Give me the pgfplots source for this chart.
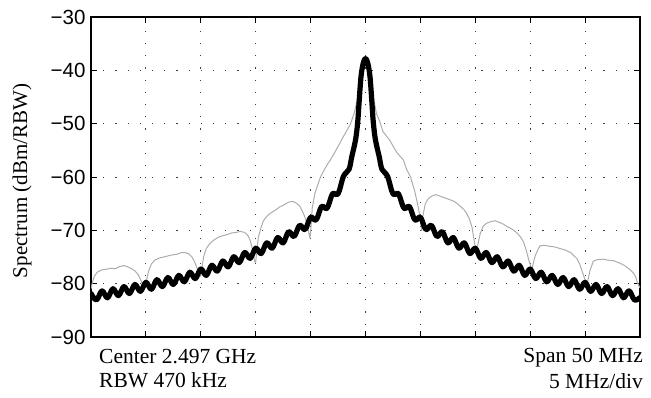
\documentclass[border=0pt]{standalone}
\usepackage{pgfplots}
\pgfplotsset{compat=1.18}
\usepackage{fontspec}
\setmainfont{Liberation Serif}
\newfontfamily\arialfont{Liberation Sans}
\definecolor{lightgr}{RGB}{172,172,172}
\begin{document}
\begin{tikzpicture}
\useasboundingbox (0,0) rectangle (651pt,397pt);
\begin{axis}[
  at={(91pt,60pt)}, anchor=south west,
  width=549pt, height=320pt, scale only axis,
  xmin=-25, xmax=25, ymin=-90, ymax=-30,
  xtick={-20,-15,...,20}, xticklabels={,,,,,,,,},
  ytick={-90,-80,-70,-60,-50,-40,-30},
  yticklabels={−90,−80,−70,−60,−50,−40,−30},
  yticklabel style={font=\arialfont\fontsize{20.5}{24}\selectfont, xshift=-2pt},
  tick align=inside, major tick length=6pt,
  tick style={black, line width=0.9pt},
  axis line style={black, line width=1.2pt},
  grid=major,
  major grid style={dash pattern=on 1.2pt off 11pt, black!75, line width=0.9pt},
  clip=true,
]
\addplot[lightgr, line width=1pt, line join=round] coordinates {
(-25.0,-81.0) (-24.9,-80.0) (-24.7,-78.6) (-24.4,-77.8) (-24.0,-77.4) (-23.6,-77.3)
(-23.2,-77.1) (-22.8,-77.2) (-22.4,-76.8) (-22.0,-76.6) (-21.6,-76.9) (-21.3,-77.2)
(-21.0,-77.6) (-20.7,-78.3) (-20.45,-79.4) (-20.25,-80.3) (-20.1,-80.7) (-19.95,-79.5)
(-19.75,-77.6) (-19.5,-76.3) (-19.2,-75.6) (-18.8,-75.2) (-18.4,-75.0) (-18.0,-74.8)
(-17.6,-74.6) (-17.2,-74.5) (-16.8,-74.2) (-16.4,-74.2) (-16.1,-74.4) (-15.8,-75.0)
(-15.55,-76.0) (-15.3,-77.3) (-15.1,-78.4) (-15.0,-78.6) (-14.9,-77.2) (-14.75,-75.0)
(-14.5,-73.4) (-14.15,-72.4) (-13.8,-71.8) (-13.4,-71.3) (-13.0,-71.0) (-12.6,-70.8)
(-12.2,-70.5) (-11.8,-70.4) (-11.4,-70.2) (-11.0,-70.4) (-10.7,-71.0) (-10.5,-71.9)
(-10.3,-73.5) (-10.1,-75.8) (-10.0,-76.0) (-9.9,-73.8) (-9.75,-71.2) (-9.5,-69.4)
(-9.3,-68.2) (-9.0,-67.4) (-8.6,-66.7) (-8.2,-66.2) (-7.8,-65.6) (-7.4,-65.2)
(-7.0,-64.7) (-6.6,-64.6) (-6.3,-64.9) (-6.0,-65.4) (-5.7,-66.6) (-5.45,-67.9)
(-5.25,-69.6) (-5.05,-71.5) (-4.95,-69.0) (-4.85,-65.8) (-4.6,-63.0) (-4.4,-61.8)
(-4.1,-60.0) (-3.8,-58.8) (-3.4,-57.4) (-3.2,-56.8) (-2.8,-55.4) (-2.3,-53.5)
(-1.9,-52.0) (-1.4,-50.2) (-1.04,-48.1) (-0.8,-46.0) (-0.5,-43.0) (-0.3,-41.0)
(-0.15,-39.6) (0,-38.8) (0.15,-39.6) (0.3,-41.0) (0.5,-43.0) (0.8,-46.0)
(1.0,-48.1) (1.3,-49.6) (1.6,-51.5) (2.2,-53.1) (2.85,-55.4) (3.45,-56.8)
(3.75,-58.6) (4.1,-60.0) (4.5,-62.8) (4.8,-65.6) (5.0,-68.0) (5.1,-70.0)
(5.25,-67.0) (5.45,-65.0) (5.7,-64.1) (6.0,-63.6) (6.4,-63.3) (6.8,-63.6)
(7.2,-63.9) (7.6,-64.2) (8.0,-64.5) (8.3,-64.9) (8.7,-65.6) (9.0,-66.2)
(9.2,-66.8) (9.45,-67.8) (9.7,-69.4) (9.9,-72.0) (10.1,-74.2) (10.25,-72.5)
(10.45,-70.6) (10.7,-69.3) (11.0,-68.7) (11.35,-68.4) (11.8,-68.2) (12.2,-68.5)
(12.6,-68.9) (12.9,-69.3) (13.3,-69.7) (13.7,-70.3) (14.1,-71.2) (14.4,-72.2)
(14.65,-73.8) (14.9,-75.8) (15.15,-77.4) (15.3,-76.0) (15.45,-74.8) (15.7,-73.6)
(15.9,-72.9) (16.3,-72.8) (16.8,-73.0) (17.2,-73.1) (17.7,-73.4) (18.2,-73.7)
(18.7,-74.2) (19.25,-75.3) (19.5,-76.3) (19.7,-77.5) (19.95,-79.0) (20.15,-80.0)
(20.3,-79.0) (20.45,-77.5) (20.75,-75.8) (21.1,-75.5) (21.6,-75.4) (22.1,-75.6)
(22.6,-75.7) (23.1,-76.1) (23.6,-76.6) (24.1,-77.4) (24.4,-78.0) (24.6,-78.7)
(24.8,-80.0) (25.0,-80.8)
};
\addplot[black, line width=5.2pt, smooth, tension=0.6, line join=round, line cap=round] coordinates {
(-25.0,-81.85) (-24.5,-83.05) (-24.0,-81.35) (-23.5,-82.65) (-23.0,-80.95) (-22.5,-82.25)
(-22.0,-80.55) (-21.5,-81.85) (-21.0,-80.15) (-20.5,-81.45) (-20.0,-79.75) (-19.5,-81.05)
(-19.0,-79.25) (-18.5,-80.55) (-18.0,-78.85) (-17.5,-80.15) (-17.0,-78.45) (-16.5,-79.65)
(-16.0,-77.85) (-15.5,-79.05) (-15.0,-77.25) (-14.5,-78.45) (-14.0,-76.55) (-13.5,-77.65)
(-13.0,-75.75) (-12.5,-76.85) (-12.0,-74.95) (-11.5,-76.05) (-11.0,-74.15) (-10.5,-75.25)
(-10.0,-73.35) (-9.5,-74.35) (-9.0,-72.35) (-8.5,-73.35) (-8.0,-71.35) (-7.5,-72.35)
(-7.0,-70.25) (-6.5,-71.15) (-6.0,-69.05) (-5.5,-69.85) (-5.0,-67.55) (-4.5,-68.05)
(-4.0,-65.55) (-3.5,-65.85) (-3.0,-63.15) (-2.5,-63.15) (-2.0,-59.85) (-1.5,-58.55)
(-1.25,-56.2) (-1.0,-54.0) (-0.85,-52.3) (-0.7,-49.5) (-0.6,-46.5) (-0.5,-43.5)
(-0.4,-41.0) (-0.3,-39.6) (-0.2,-38.6) (-0.1,-38.0) (0,-37.8)
(0.1,-38.0) (0.2,-38.6) (0.3,-39.6) (0.4,-41.0) (0.5,-43.5) (0.6,-46.5)
(0.7,-49.5) (0.85,-52.3) (1.0,-54.0) (1.25,-56.2) (1.5,-58.55) (2.0,-59.85)
(2.5,-63.15) (3.0,-63.15) (3.5,-65.85) (4.0,-65.55) (4.5,-68.05) (5.0,-67.55)
(5.5,-69.85) (6.0,-69.05) (6.5,-71.15) (7.0,-70.25) (7.5,-72.35) (8.0,-71.35)
(8.5,-73.35) (9.0,-72.35) (9.5,-74.35) (10.0,-73.35) (10.5,-75.25) (11.0,-74.15)
(11.5,-76.05) (12.0,-74.95) (12.5,-76.85) (13.0,-75.75) (13.5,-77.65) (14.0,-76.55)
(14.5,-78.45) (15.0,-77.25) (15.5,-79.05) (16.0,-77.85) (16.5,-79.65) (17.0,-78.45)
(17.5,-80.15) (18.0,-78.85) (18.5,-80.55) (19.0,-79.25) (19.5,-81.05) (20.0,-79.75)
(20.5,-81.45) (21.0,-80.15) (21.5,-81.85) (22.0,-80.55) (22.5,-82.25) (23.0,-80.95)
(23.5,-82.65) (24.0,-81.35) (24.5,-83.05) (25.0,-82.6)
};
\end{axis}
\node[rotate=90, font=\fontsize{21}{25}\selectfont, inner sep=0pt] at (22pt,216pt) {Spectrum (dBm/RBW)};
\node[anchor=base west, font=\fontsize{21.5}{25}\selectfont, inner sep=0pt] at (99pt,34pt) {Center 2.497 GHz};
\node[anchor=base west, font=\fontsize{21.5}{25}\selectfont, inner sep=0pt] at (99pt,10pt) {RBW 470 kHz};
\node[anchor=base east, font=\fontsize{21.5}{25}\selectfont, inner sep=0pt] at (643pt,35pt) {Span 50 MHz};
\node[anchor=base east, font=\fontsize{21.5}{25}\selectfont, inner sep=0pt] at (643pt,9pt) {5 MHz/div};
\end{tikzpicture}
\end{document}
